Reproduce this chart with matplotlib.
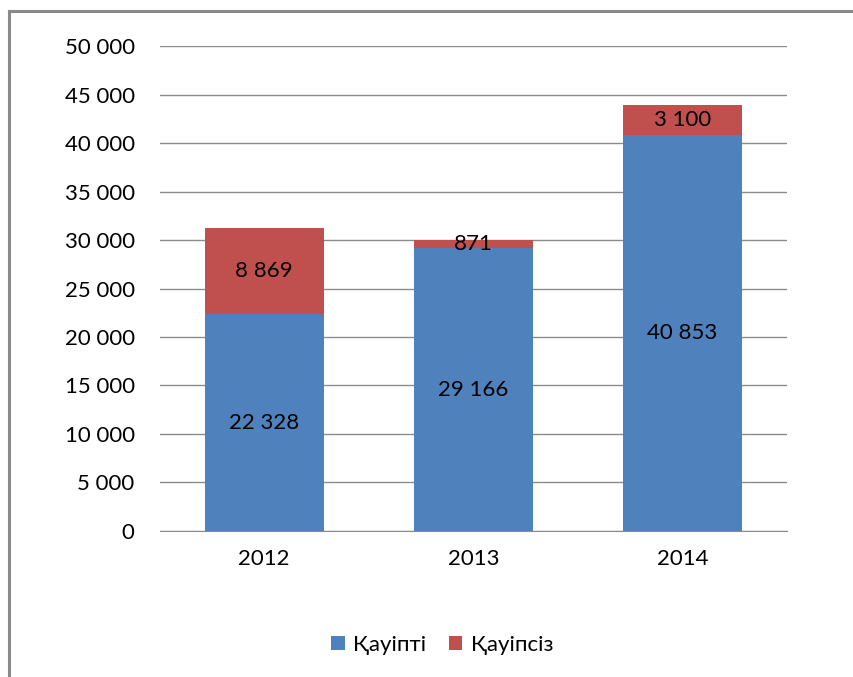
import matplotlib.pyplot as plt
from matplotlib.lines import Line2D
from matplotlib.ticker import FuncFormatter

plt.rcParams['font.family'] = ['Lato', 'DejaVu Sans']

years = ["2012", "2013", "2014"]
qauipti = [22328, 29166, 40853]
qauipsiz = [8869, 871, 3100]
yticks = list(range(0, 50001, 5000))

def fmt(v, pos=None):
    return "{:,}".format(int(v)).replace(",", " ")

fig = plt.figure(figsize=(8.54, 6.77), dpi=100)
ax = fig.add_axes([0.187, 0.2157, 0.7345, 0.7163])

x = range(len(years))
b1 = ax.bar(x, qauipti, width=0.57, color="#4F81BD", label="Қауіпті", zorder=3)
b2 = ax.bar(x, qauipsiz, width=0.57, bottom=qauipti, color="#C0504D", label="Қауіпсіз", zorder=3)

for i in x:
    ax.text(i, qauipti[i] / 2, fmt(qauipti[i]), ha="center", va="center", fontsize=16, color="black", zorder=4)
    ax.text(i, qauipti[i] + qauipsiz[i] / 2, fmt(qauipsiz[i]), ha="center", va="center", fontsize=16, color="black", zorder=4)

ax.set_xlim(-0.5, 2.5)
ax.set_ylim(0, 50000)
ax.set_yticks(yticks)
ax.yaxis.set_major_formatter(FuncFormatter(fmt))
ax.set_xticks(list(x))
ax.set_xticklabels(years)
ax.grid(axis="y", color="#8c8c8c", linewidth=1, zorder=0)
ax.tick_params(axis="both", length=0, labelsize=16, colors="black")
ax.tick_params(axis="y", pad=18)
ax.tick_params(axis="x", pad=13)
for s in ["top", "right", "left"]:
    ax.spines[s].set_visible(False)
ax.spines["bottom"].set_color("#8c8c8c")

fig.legend(handles=[b1, b2], loc="center", bbox_to_anchor=(0.518, 0.047), ncol=2, frameon=False,
           fontsize=16, handlelength=0.6, handleheight=0.6, columnspacing=1.0, handletextpad=0.4)

# border of the chart area
fig.add_artist(Line2D([9 / 854, 9 / 854], [0, 1 - 11 / 677], color="#8a8a8a", linewidth=2.2))
fig.add_artist(Line2D([9 / 854, 1], [1 - 11 / 677, 1 - 11 / 677], color="#8a8a8a", linewidth=2.2))

fig.savefig("out.png", dpi=100)
